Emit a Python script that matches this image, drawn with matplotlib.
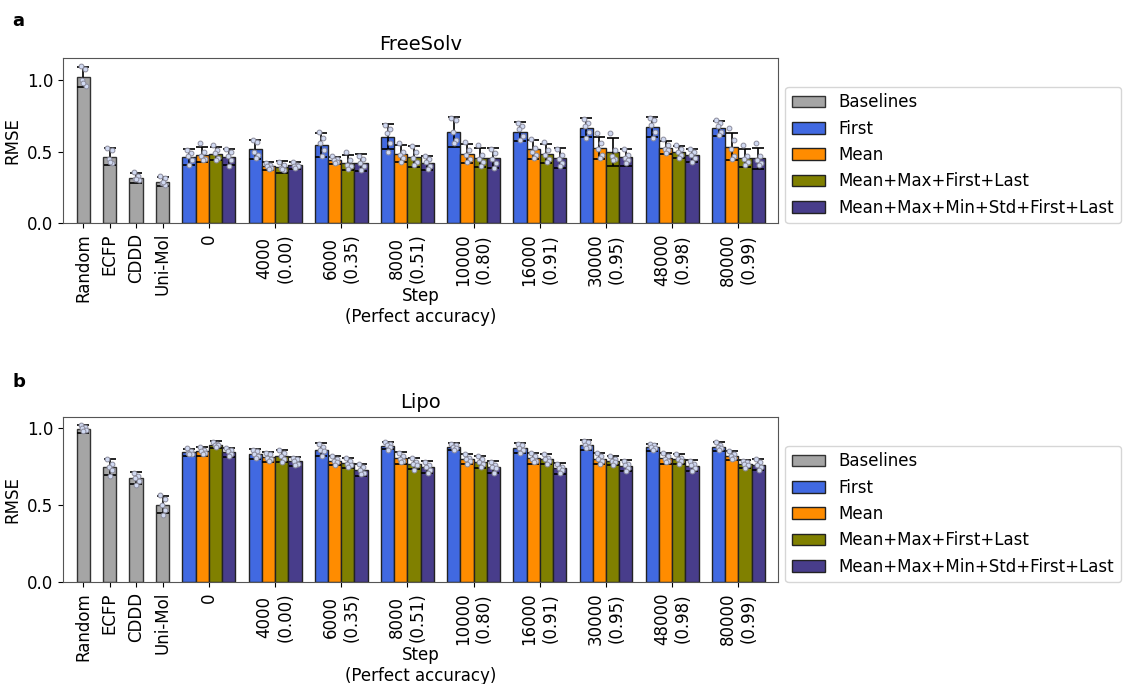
import numpy as np
import matplotlib.pyplot as plt
from matplotlib.patches import Patch

baselines = ["Random", "ECFP", "CDDD", "Uni-Mol"]
steps = ["0", "4000\n(0.00)", "6000\n(0.35)", "8000\n(0.51)", "10000\n(0.80)",
         "16000\n(0.91)", "30000\n(0.95)", "48000\n(0.98)", "80000\n(0.99)"]
methods = ["First", "Mean", "Mean+Max+First+Last", "Mean+Max+Min+Std+First+Last"]

# ---- FreeSolv ----
fs_base_mean = [1.024, 0.466, 0.320, 0.292]
fs_base_sd = [0.073, 0.060, 0.035, 0.030]
fs_base_pts = [[1.10, 1.08, 1.00, 0.96, 0.98],
               [0.53, 0.51, 0.45, 0.42, 0.43],
               [0.36, 0.33, 0.31, 0.30, 0.31],
               [0.33, 0.32, 0.28, 0.27, 0.29]]

fs_first_mean = [0.466, 0.518, 0.546, 0.607, 0.636, 0.640, 0.668, 0.673, 0.666]
fs_first_sd = [0.057, 0.066, 0.085, 0.087, 0.105, 0.066, 0.066, 0.070, 0.052]
fs_mean_mean = [0.480, 0.400, 0.440, 0.487, 0.487, 0.518, 0.530, 0.530, 0.537]
fs_mean_sd = [0.052, 0.028, 0.026, 0.060, 0.065, 0.065, 0.077, 0.047, 0.094]
fs_mmfl_mean = [0.487, 0.395, 0.424, 0.466, 0.459, 0.487, 0.499, 0.499, 0.459]
fs_mmfl_sd = [0.047, 0.040, 0.052, 0.075, 0.068, 0.066, 0.100, 0.042, 0.064]
fs_all_mean = [0.466, 0.405, 0.424, 0.424, 0.454, 0.454, 0.461, 0.476, 0.454]
fs_all_sd = [0.057, 0.023, 0.059, 0.050, 0.070, 0.070, 0.057, 0.047, 0.073]

fs_first_pts = [[0.51, 0.49, 0.47, 0.44, 0.41], [0.58, 0.57, 0.50, 0.48, 0.46],
                [0.64, 0.60, 0.56, 0.51, 0.47], [0.69, 0.66, 0.63, 0.56, 0.50],
                [0.74, 0.72, 0.64, 0.58, 0.56], [0.70, 0.68, 0.66, 0.61, 0.58],
                [0.73, 0.70, 0.68, 0.64, 0.60], [0.74, 0.72, 0.69, 0.64, 0.60],
                [0.72, 0.70, 0.68, 0.64, 0.62]]
fs_mean_pts = [[0.56, 0.50, 0.47, 0.45, 0.44], [0.42, 0.41, 0.40, 0.39, 0.38],
               [0.47, 0.45, 0.44, 0.43, 0.42], [0.56, 0.50, 0.48, 0.46, 0.43],
               [0.57, 0.51, 0.48, 0.45, 0.43], [0.59, 0.53, 0.50, 0.48, 0.46],
               [0.63, 0.56, 0.52, 0.48, 0.46], [0.59, 0.55, 0.52, 0.51, 0.49],
               [0.67, 0.58, 0.52, 0.47, 0.45]]
fs_mmfl_pts = [[0.55, 0.51, 0.49, 0.46, 0.44], [0.43, 0.41, 0.39, 0.37, 0.38],
               [0.50, 0.44, 0.41, 0.40, 0.38], [0.54, 0.50, 0.46, 0.43, 0.41],
               [0.55, 0.48, 0.45, 0.43, 0.40], [0.57, 0.51, 0.48, 0.45, 0.43],
               [0.63, 0.51, 0.47, 0.45, 0.44], [0.55, 0.52, 0.50, 0.48, 0.46],
               [0.55, 0.47, 0.45, 0.43, 0.41]]
fs_all_pts = [[0.52, 0.50, 0.47, 0.44, 0.40], [0.43, 0.41, 0.40, 0.40, 0.39],
              [0.47, 0.45, 0.42, 0.40, 0.37], [0.47, 0.45, 0.43, 0.40, 0.38],
              [0.52, 0.49, 0.45, 0.42, 0.39], [0.52, 0.48, 0.45, 0.42, 0.40],
              [0.52, 0.48, 0.46, 0.44, 0.42], [0.52, 0.50, 0.48, 0.46, 0.43],
              [0.56, 0.47, 0.44, 0.42, 0.41]]

# ---- Lipo ----
lp_base_mean = [0.998, 0.748, 0.675, 0.505]
lp_base_sd = [0.026, 0.052, 0.039, 0.057]
lp_base_pts = [[1.02, 1.01, 1.00, 0.99, 0.98],
               [0.80, 0.77, 0.75, 0.73, 0.69],
               [0.71, 0.69, 0.68, 0.66, 0.63],
               [0.57, 0.54, 0.50, 0.47, 0.44]]

lp_first_mean = [0.844, 0.833, 0.861, 0.887, 0.881, 0.872, 0.894, 0.876, 0.881]
lp_first_sd = [0.024, 0.033, 0.043, 0.022, 0.024, 0.033, 0.032, 0.022, 0.028]
lp_mean_mean = [0.850, 0.813, 0.790, 0.807, 0.800, 0.805, 0.803, 0.805, 0.822]
lp_mean_sd = [0.028, 0.030, 0.028, 0.037, 0.033, 0.034, 0.036, 0.034, 0.028]
lp_mmfl_mean = [0.894, 0.820, 0.774, 0.770, 0.781, 0.800, 0.790, 0.800, 0.768]
lp_mmfl_sd = [0.022, 0.041, 0.033, 0.037, 0.037, 0.035, 0.028, 0.033, 0.028]
lp_all_mean = [0.844, 0.785, 0.731, 0.746, 0.748, 0.740, 0.757, 0.757, 0.764]
lp_all_sd = [0.028, 0.028, 0.039, 0.039, 0.037, 0.034, 0.035, 0.035, 0.037]

lp_first_pts = [[0.87, 0.85, 0.84, 0.83, 0.83], [0.86, 0.85, 0.83, 0.82, 0.81],
                [0.90, 0.88, 0.86, 0.85, 0.82], [0.91, 0.90, 0.89, 0.88, 0.86],
                [0.90, 0.89, 0.88, 0.87, 0.86], [0.90, 0.89, 0.87, 0.86, 0.84],
                [0.92, 0.91, 0.89, 0.88, 0.87], [0.90, 0.89, 0.88, 0.87, 0.86],
                [0.91, 0.89, 0.88, 0.87, 0.86]]
lp_mean_pts = [[0.88, 0.86, 0.85, 0.84, 0.83], [0.84, 0.83, 0.81, 0.80, 0.79],
               [0.82, 0.80, 0.79, 0.78, 0.76], [0.84, 0.82, 0.80, 0.79, 0.78],
               [0.83, 0.81, 0.80, 0.79, 0.77], [0.84, 0.82, 0.80, 0.79, 0.78],
               [0.84, 0.82, 0.80, 0.79, 0.77], [0.84, 0.82, 0.80, 0.79, 0.78],
               [0.85, 0.83, 0.82, 0.81, 0.80]]
lp_mmfl_pts = [[0.91, 0.90, 0.89, 0.89, 0.88], [0.86, 0.84, 0.82, 0.80, 0.78],
               [0.81, 0.79, 0.77, 0.76, 0.75], [0.81, 0.78, 0.77, 0.76, 0.73],
               [0.82, 0.80, 0.78, 0.77, 0.75], [0.83, 0.81, 0.80, 0.79, 0.77],
               [0.82, 0.80, 0.79, 0.78, 0.76], [0.83, 0.81, 0.80, 0.79, 0.77],
               [0.79, 0.78, 0.77, 0.76, 0.74]]
lp_all_pts = [[0.87, 0.86, 0.85, 0.83, 0.82], [0.81, 0.80, 0.79, 0.77, 0.76],
              [0.77, 0.75, 0.73, 0.71, 0.70], [0.78, 0.76, 0.75, 0.73, 0.71],
              [0.78, 0.76, 0.75, 0.74, 0.71], [0.77, 0.75, 0.74, 0.73, 0.71],
              [0.79, 0.77, 0.76, 0.74, 0.72], [0.79, 0.77, 0.76, 0.74, 0.72],
              [0.80, 0.78, 0.76, 0.75, 0.73]]

base_color = "#a5a5a5"
colors = ["#4169e1", "#ff8c00", "#808000", "#483d8b"]
jitter = np.array([-0.035, 0.03, -0.015, 0.04, 0.005])

plt.rcParams["font.size"] = 12


def draw_dots(ax, x, pts):
    ax.scatter(x + jitter, pts, s=12, marker="o", facecolor="#d0d9f2",
               edgecolor="#8c8c9c", linewidth=0.7, zorder=4)


def panel(ax, title, b_mean, b_sd, b_pts, means, sds, pts):
    w = 0.2
    bx = np.array([-1.9, -1.5, -1.1, -0.7])
    ax.bar(bx, b_mean, width=w, color=base_color, edgecolor="#333333",
           linewidth=1, zorder=2)
    ax.errorbar(bx, b_mean, yerr=b_sd, fmt="none", ecolor="black",
                capsize=4, elinewidth=1.2, capthick=1.2, zorder=3)
    for i in range(len(bx)):
        draw_dots(ax, bx[i], b_pts[i])

    gx = np.arange(len(steps))
    for k in range(4):
        x = gx + (k - 1.5) * w
        ax.bar(x, means[k], width=w, color=colors[k], edgecolor="#222222",
               linewidth=1, zorder=2)
        ax.errorbar(x, means[k], yerr=sds[k], fmt="none", ecolor="black",
                    capsize=4, elinewidth=1.2, capthick=1.2, zorder=3)
        for i in range(len(gx)):
            draw_dots(ax, x[i], pts[k][i])

    ax.set_xticks(list(bx) + list(gx))
    ax.set_xticklabels(baselines + steps, rotation=90)
    ax.set_xlim(-2.2, 8.6)
    ax.set_yticks([0.0, 0.5, 1.0])
    ax.set_ylabel("RMSE")
    ax.set_xlabel("Step\n(Perfect accuracy)")
    ax.xaxis.set_label_coords(0.5, -0.385)
    ax.set_title(title, fontsize=14)
    for s in ax.spines.values():
        s.set_color("#555555")

    handles = [Patch(facecolor=base_color, edgecolor="#333333", label="Baselines")]
    for k in range(4):
        handles.append(Patch(facecolor=colors[k], edgecolor="#222222", label=methods[k]))
    ax.legend(handles=handles, loc="lower left", bbox_to_anchor=(1.01, 0.0),
              borderaxespad=0, fontsize=12)


fig = plt.figure(figsize=(11.26, 6.84), dpi=100)
ax1 = fig.add_axes([0.0562, 0.6735, 0.6348, 0.2413])
ax2 = fig.add_axes([0.0562, 0.1487, 0.6348, 0.2421])

panel(ax1, "FreeSolv", fs_base_mean, fs_base_sd, fs_base_pts,
      [fs_first_mean, fs_mean_mean, fs_mmfl_mean, fs_all_mean],
      [fs_first_sd, fs_mean_sd, fs_mmfl_sd, fs_all_sd],
      [fs_first_pts, fs_mean_pts, fs_mmfl_pts, fs_all_pts])
panel(ax2, "Lipo", lp_base_mean, lp_base_sd, lp_base_pts,
      [lp_first_mean, lp_mean_mean, lp_mmfl_mean, lp_all_mean],
      [lp_first_sd, lp_mean_sd, lp_mmfl_sd, lp_all_sd],
      [lp_first_pts, lp_mean_pts, lp_mmfl_pts, lp_all_pts])

fig.text(0.011, 0.97, "a", fontsize=13, fontweight="bold", va="center")
fig.text(0.011, 0.442, "b", fontsize=13, fontweight="bold", va="center")

fig.savefig("out.png", dpi=100)
